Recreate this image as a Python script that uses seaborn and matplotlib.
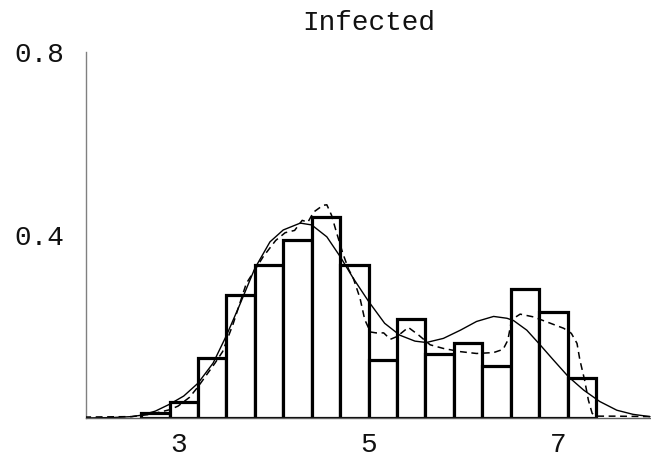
import numpy as np
import pandas as pd
import matplotlib
matplotlib.use("Agg")
import matplotlib.pyplot as plt
import seaborn as sns

# ---- data ----
bin_edges = [2.6, 2.9, 3.2, 3.5, 3.8, 4.1, 4.4, 4.7, 5.0, 5.3, 5.6, 5.9, 6.2, 6.5, 6.8, 7.1, 7.4]
bar_heights = [0.010, 0.036, 0.131, 0.269, 0.334, 0.388, 0.439, 0.335, 0.127, 0.216,
               0.140, 0.165, 0.114, 0.282, 0.231, 0.088]

smooth_x = [2.0, 2.3, 2.5, 2.6, 2.75, 2.9, 3.05, 3.2, 3.36, 3.5, 3.64, 3.8, 3.96, 4.1,
            4.28, 4.4, 4.56, 4.7, 4.84, 5.0, 5.17, 5.33, 5.49, 5.61, 5.79, 5.97, 6.14,
            6.32, 6.46, 6.53, 6.67, 6.81, 6.95, 7.11, 7.27, 7.44, 7.62, 7.79, 7.97]
smooth_y = [0.000, 0.001, 0.003, 0.006, 0.015, 0.030, 0.048, 0.076, 0.120, 0.180, 0.247,
            0.327, 0.385, 0.411, 0.426, 0.422, 0.396, 0.353, 0.305, 0.255, 0.207, 0.181,
            0.168, 0.165, 0.174, 0.192, 0.211, 0.222, 0.218, 0.213, 0.192, 0.160, 0.127,
            0.090, 0.061, 0.036, 0.017, 0.008, 0.003]

kde_x = [2.0, 2.5, 2.7, 2.9, 2.99, 3.11, 3.2, 3.29, 3.38, 3.46, 3.57, 3.71, 3.89, 4.02,
         4.12, 4.22, 4.30, 4.36, 4.42, 4.52, 4.56, 4.61, 4.66, 4.73, 4.79, 4.84, 4.91,
         4.96, 5.02, 5.08, 5.16, 5.23, 5.30, 5.42, 5.53, 5.65, 5.79, 5.97, 6.14, 6.32,
         6.42, 6.47, 6.51, 6.60, 6.74, 6.92, 7.06, 7.14, 7.20, 7.23, 7.28, 7.32, 7.36,
         7.41, 7.6, 7.98]
kde_y = [0.002, 0.003, 0.008, 0.018, 0.026, 0.045, 0.068, 0.094, 0.120, 0.145, 0.205,
         0.294, 0.353, 0.388, 0.405, 0.410, 0.432, 0.428, 0.450, 0.465, 0.466, 0.443,
         0.407, 0.359, 0.325, 0.305, 0.262, 0.215, 0.188, 0.186, 0.186, 0.172, 0.178,
         0.198, 0.181, 0.160, 0.152, 0.145, 0.141, 0.143, 0.150, 0.170, 0.215, 0.227,
         0.221, 0.207, 0.196, 0.185, 0.163, 0.127, 0.083, 0.039, 0.010, 0.004, 0.004,
         0.003]

title = "Infected"
x_ticks = [3, 5, 7]
y_ticks = [0.4, 0.8]

# ---- plotting ----
sns.set_style("white")
plt.rcParams["font.family"] = ["Liberation Mono", "DejaVu Sans Mono"]

fig = plt.figure(figsize=(6.51, 4.61), dpi=100)
ax = fig.add_axes([0.1323, 0.0933, 0.8676, 0.7939])

centers = [(a + b) / 2 for a, b in zip(bin_edges[:-1], bin_edges[1:])]
hist_df = pd.DataFrame({"x": centers, "w": bar_heights})
sns.histplot(data=hist_df, x="x", weights="w", bins=bin_edges, stat="count",
             color="white", edgecolor="black", linewidth=2.3, alpha=1.0, ax=ax, zorder=2)

sns.lineplot(x=smooth_x, y=smooth_y, color="black", linewidth=1.0, ax=ax,
             sort=False, zorder=3)
sns.lineplot(x=kde_x, y=kde_y, color="black", linewidth=1.1, ax=ax,
             sort=False, zorder=3)
ax.lines[-1].set_dashes([4.5, 3])

ax.set_xlim(2.02, 7.98)
ax.set_ylim(0, 0.8)
ax.set_xticks(x_ticks)
ax.set_xticklabels([str(t) for t in x_ticks])
ax.set_yticks(y_ticks)
ax.set_yticklabels([f"{t:.1f}" for t in y_ticks])
ax.set_xlabel("")
ax.set_ylabel("")

for s in ["top", "right"]:
    ax.spines[s].set_visible(False)
ax.spines["left"].set_color("#808080")
ax.spines["left"].set_linewidth(1.0)
ax.spines["bottom"].set_color("#606060")
ax.spines["bottom"].set_linewidth(1.0)
ax.spines["bottom"].set_zorder(4)

ax.tick_params(axis="x", direction="in", length=4, width=0.8, colors="#606060",
               labelcolor="#111111", labelsize=20, pad=10)
ax.tick_params(axis="y", direction="in", length=4, width=0.8, colors="#808080",
               labelcolor="#111111", labelsize=20, pad=16)
ax.set_title(title, fontsize=20, pad=16, color="#111111")

fig.savefig("out.png", dpi=100)
